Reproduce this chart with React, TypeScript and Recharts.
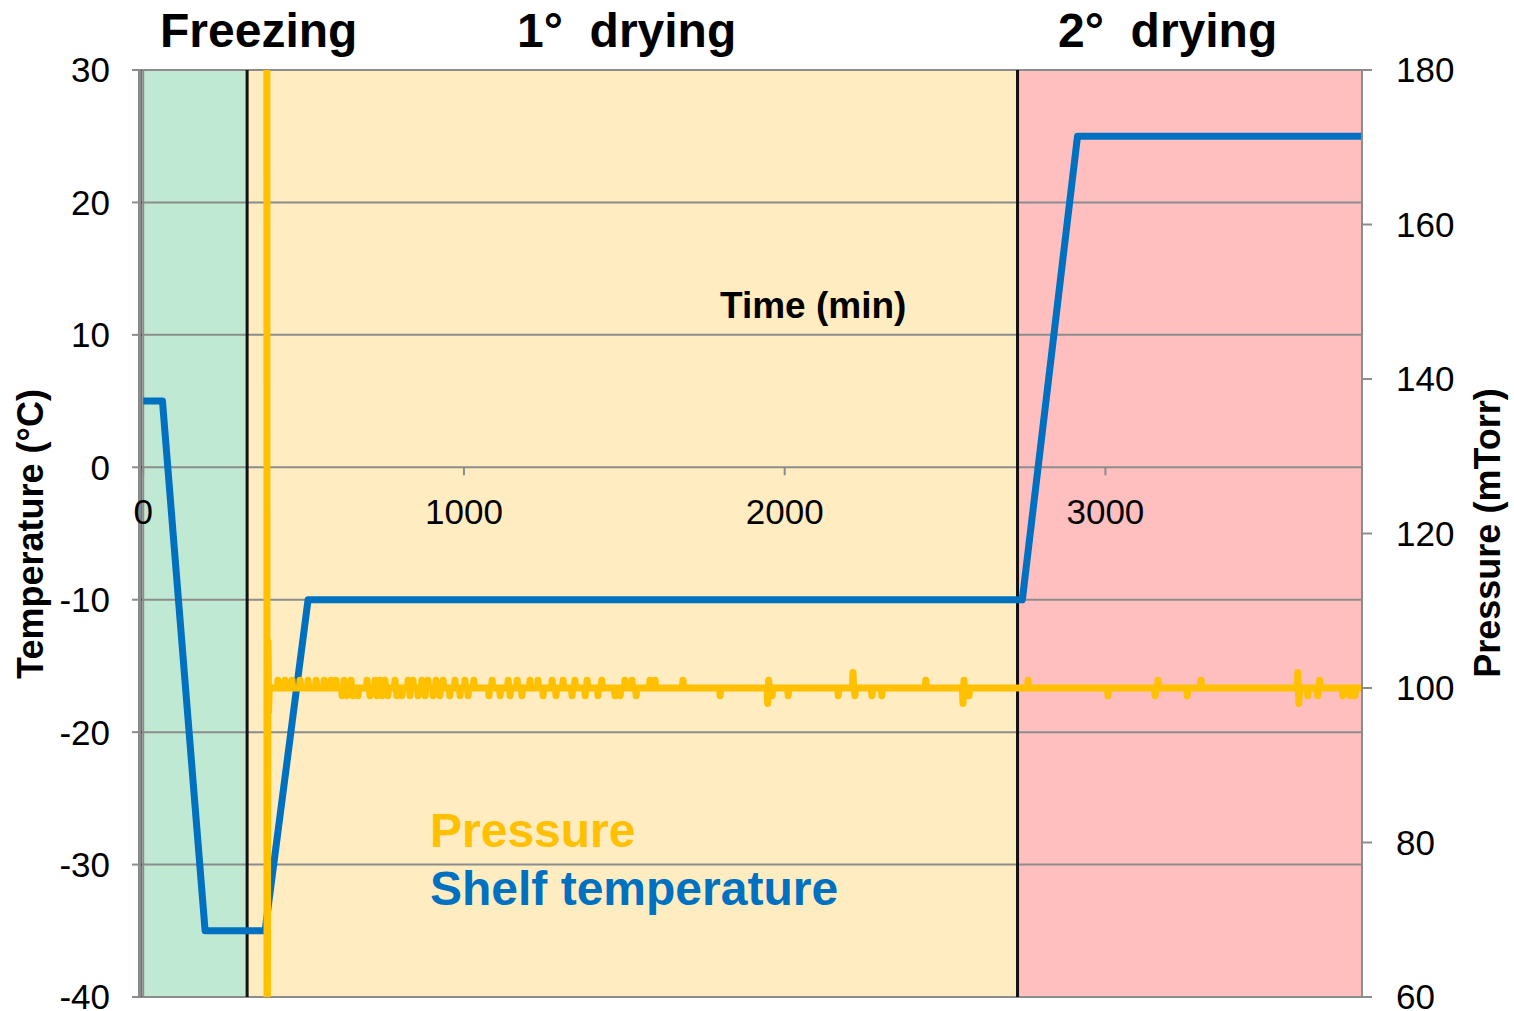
import { ComposedChart, Line, XAxis, YAxis, ReferenceArea, ReferenceLine } from 'recharts';

const phaseNames = ['Freezing', '1°  drying', '2°  drying'];
const phaseBounds = [-10, 324, 2726, 3800];
const phaseColors = ['#BFE9D2', '#FFECC1', '#FFBFBF'];

const timeTicks = [0, 1000, 2000, 3000];
const tempTicks = [-40, -30, -20, -10, 0, 10, 20, 30];
const pressureTicks = [60, 80, 100, 120, 140, 160, 180];

// shelf temperature set points (min, °C)
const shelfTime = [0, 60, 193, 380, 514, 2741, 2913, 3797];
const shelfTemp = [5, 5, -35, -35, -10, -10, 25, 25];

// chamber pump-down at start of primary drying (min, mTorr)
const pumpTime = [384, 386, 389, 391, 393];
const pumpPressure = [760, 30, 106, 97, 100];

// small pressure excursions around the set point
const spikeTime = [
  420, 442, 464, 489, 514, 539, 564, 586, 601, 620, 626, 635, 648, 654, 670, 698, 707, 723, 729, 738,
  745, 754, 763, 785, 791, 807, 826, 832, 841, 857, 869, 879, 888, 904, 913, 925, 935, 956, 972, 988,
  1003, 1013, 1031, 1078, 1088, 1113, 1138, 1144, 1166, 1181, 1206, 1231, 1247, 1275, 1287, 1309, 1337,
  1346, 1378, 1384, 1418, 1430, 1471, 1487, 1502, 1524, 1537, 1580, 1596, 1683, 1799, 1947, 1950, 1961,
  2011, 2167, 2213, 2219, 2272, 2303, 2440, 2556, 2559, 2575, 2759, 3008, 3155, 3164, 3255, 3298, 3600,
  3603, 3631, 3662, 3668, 3740, 3762, 3778,
];
const spikePressure = [
  101, 101, 101, 101, 101, 101, 101, 101, 101, 99, 101, 99, 101, 99, 99, 101, 99, 101, 99, 101,
  99, 101, 99, 101, 99, 99, 101, 99, 101, 99, 101, 99, 101, 99, 101, 99, 101, 99, 101, 99,
  101, 99, 101, 99, 101, 99, 101, 99, 101, 99, 101, 101, 99, 101, 99, 101, 99,
  101, 99, 101, 99, 101, 99, 99, 101, 101, 99, 101, 101, 101, 99, 98, 101, 99,
  99, 99, 102, 99, 99, 99, 101, 98, 101, 99, 101, 99, 99, 101, 99, 101, 102,
  98, 99, 99, 101, 99, 99, 99,
];
const basePressure = 100;
const pressureEnd = 3797;

const shelfData = shelfTime.map((t, i) => ({ t, v: shelfTemp[i] }));

const pressureData: { t: number; p: number }[] = pumpTime.map((t, i) => ({ t, p: pumpPressure[i] }));
spikeTime.forEach((t, i) => {
  const prev = i > 0 ? spikeTime[i - 1] : -Infinity;
  const next = i < spikeTime.length - 1 ? spikeTime[i + 1] : Infinity;
  if (t - prev > 4) pressureData.push({ t: t - 2, p: basePressure });
  pressureData.push({ t, p: spikePressure[i] });
  if (next - t > 4) pressureData.push({ t: t + 2, p: basePressure });
});
pressureData.push({ t: pressureEnd, p: basePressure });

const W = 1514;
const H = 1011;
const PLOT_TOP = 70;
const PLOT_BOTTOM = 997;
const tMin = tempTicks[0];
const tMax = tempTicks[tempTicks.length - 1];
const zeroY = PLOT_TOP + ((PLOT_BOTTOM - PLOT_TOP) * tMax) / (tMax - tMin);

const FONT = '"Liberation Sans", Arial, sans-serif';
const GRID = '#8C8C8C';

function TimeTick(props: any) {
  const { x, payload } = props;
  return (
    <g>
      <line x1={x} x2={x} y1={zeroY} y2={zeroY + 8} stroke={GRID} strokeWidth={2} />
      <text x={x} y={zeroY + 57} textAnchor="middle" fontSize={35} fontFamily={FONT} fill="#000">
        {payload.value}
      </text>
    </g>
  );
}

const titlePos = [160, 517, 1058];

export default function App() {
  return (
    <div style={{ position: 'absolute', left: 0, top: 0, width: W, height: H, fontFamily: FONT, background: '#fff' }}>
      <ComposedChart width={W} height={H} margin={{ top: PLOT_TOP, right: 0, bottom: 0, left: 0 }}>
        <XAxis
          dataKey="t"
          type="number"
          domain={[phaseBounds[0], phaseBounds[3]]}
          ticks={timeTicks}
          interval={0}
          allowDataOverflow
          height={H - PLOT_BOTTOM}
          axisLine={false}
          tickLine={false}
          tick={<TimeTick />}
        />
        <YAxis
          yAxisId="temp"
          orientation="left"
          width={140}
          domain={[tMin, tMax]}
          ticks={tempTicks}
          interval={0}
          allowDataOverflow
          tickSize={8}
          tickMargin={22}
          axisLine={{ stroke: GRID, strokeWidth: 2 }}
          tickLine={{ stroke: GRID, strokeWidth: 2 }}
          tick={{ fontSize: 35, fill: '#000', fontFamily: FONT }}
        />
        <YAxis
          yAxisId="pres"
          orientation="right"
          width={152}
          domain={[60, 180]}
          ticks={pressureTicks}
          interval={0}
          allowDataOverflow
          tickSize={10}
          tickMargin={24}
          axisLine={{ stroke: GRID, strokeWidth: 2 }}
          tickLine={{ stroke: GRID, strokeWidth: 2 }}
          tick={{ fontSize: 35, fill: '#000', fontFamily: FONT, textAnchor: 'start' }}
        />
        {phaseColors.map((c, i) => (
          <ReferenceArea
            key={i}
            yAxisId="temp"
            x1={phaseBounds[i]}
            x2={phaseBounds[i + 1]}
            fill={c}
            fillOpacity={1}
            stroke="none"
          />
        ))}
        {tempTicks.map((v) => (
          <ReferenceLine key={v} yAxisId="temp" y={v} stroke={GRID} strokeWidth={2} />
        ))}
        <ReferenceLine yAxisId="temp" x={0} stroke={GRID} strokeWidth={2} />
        {phaseBounds.slice(0, 3).map((b) => (
          <ReferenceLine key={b} yAxisId="temp" x={b} stroke="#111" strokeWidth={3} />
        ))}
        <Line
          yAxisId="temp"
          data={shelfData}
          dataKey="v"
          type="linear"
          stroke="#0070C0"
          strokeWidth={7}
          strokeLinejoin="round"
          dot={false}
          isAnimationActive={false}
        />
        <Line
          yAxisId="pres"
          data={pressureData}
          dataKey="p"
          type="linear"
          stroke="#FFC000"
          strokeWidth={7}
          strokeLinejoin="round"
          dot={false}
          isAnimationActive={false}
        />
      </ComposedChart>

      {phaseNames.map((n, i) => (
        <div
          key={n}
          style={{ position: 'absolute', left: titlePos[i], top: 7, fontSize: 48, lineHeight: '48px', fontWeight: 'bold', whiteSpace: 'pre' }}
        >
          {n}
        </div>
      ))}
      <div style={{ position: 'absolute', left: 720, top: 287, fontSize: 37, lineHeight: '37px', fontWeight: 'bold', whiteSpace: 'nowrap' }}>
        Time (min)
      </div>
      <div style={{ position: 'absolute', left: 430, top: 807, fontSize: 48, lineHeight: '48px', fontWeight: 'bold', color: '#FFC000', whiteSpace: 'nowrap' }}>
        Pressure
      </div>
      <div style={{ position: 'absolute', left: 430, top: 865, fontSize: 48, lineHeight: '48px', fontWeight: 'bold', color: '#0070C0', whiteSpace: 'nowrap' }}>
        Shelf temperature
      </div>
      <div
        style={{ position: 'absolute', left: 31, top: 534, fontSize: 36, lineHeight: '36px', fontWeight: 'bold', whiteSpace: 'nowrap', transform: 'translate(-50%, -50%) rotate(-90deg)' }}
      >
        Temperature (°C)
      </div>
      <div
        style={{ position: 'absolute', left: 1488, top: 533, fontSize: 36, lineHeight: '36px', fontWeight: 'bold', whiteSpace: 'nowrap', transform: 'translate(-50%, -50%) rotate(-90deg)' }}
      >
        Pressure (mTorr)
      </div>
    </div>
  );
}
